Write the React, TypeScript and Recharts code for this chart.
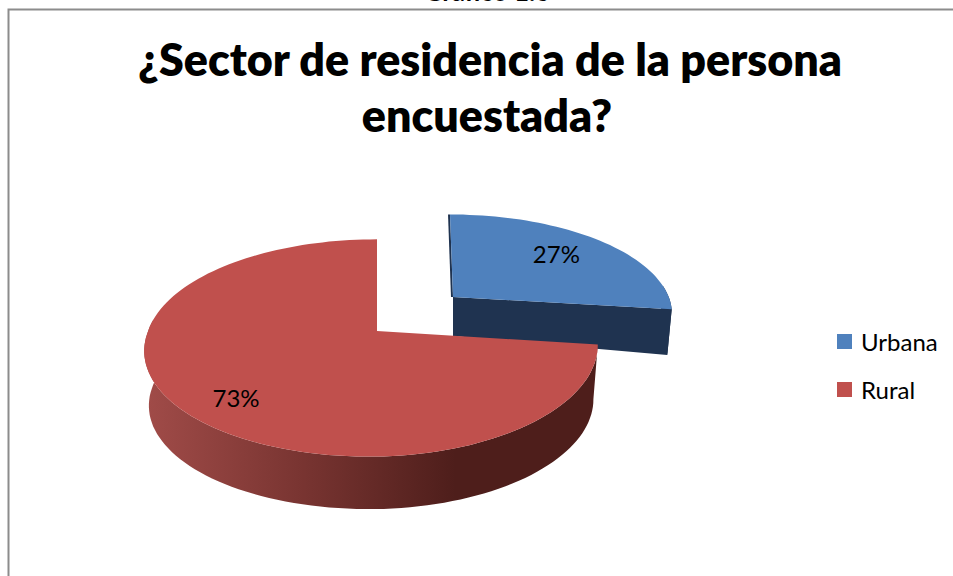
import React from 'react';
import { PieChart, Pie, Cell, Legend } from 'recharts';

const categories = ['Urbana', 'Rural'];
const shares = [27, 73];
const colors = ['#4f81bd', '#c0504d'];
const chartTitle = ['¿Sector de residencia de la persona', 'encuestada?'];

const data = categories.map((name, i) => ({ name, value: shares[i] }));

// fake 3D: each slice gets its own offset, foreshortening and wall height
const VIEW: Record<string, any> = {
  Urbana: { dx: 76, dy: -34, sx: 0.985, sy: 0.9, skew: 0.036, frontSkew: 0, depth: 39, extra: 7, cut: true, side: '#1f3350', labelAt: 0.68, labelDx: 2, labelDy: -3 },
  Rural: { dx: 0, dy: 0, sx: 1, sy: 1, skew: 0, frontSkew: -0.06, depth: 55, extra: 0, cut: false, side: 'url(#ruralSide)', labelAt: 0.75, labelDx: 2, labelDy: 10 },
};

const RAD = Math.PI / 180;
const TILT = 106;
const PERSP = 0.156;

// angle + radius fraction on the disc -> screen offset from the slice apex
const project = (angle: number, r: number, R: number, v: any) => {
  const u = Math.cos(angle * RAD) * r;
  const w = -Math.sin(angle * RAD) * r;
  const k = 1 - PERSP * w;
  const wide = u < 0 ? R * 1.045 : R;
  const y = ((TILT * w) / k) * v.sy;
  const lean = y > 0 ? y * v.frontSkew : 0;
  return { x: ((wide * u) / k) * v.sx + y * v.skew + lean, y };
};

const arcAngles = (from: number, to: number) => {
  const steps = Math.max(2, Math.ceil(Math.abs(to - from) / 2));
  const out: number[] = [];
  for (let i = 0; i <= steps; i++) out.push(from + ((to - from) * i) / steps);
  return out;
};

const toPath = (pts: { x: number; y: number }[]) =>
  pts.map((p, i) => `${i ? 'L' : 'M'}${p.x.toFixed(1)},${p.y.toFixed(1)}`).join(' ') + ' Z';

const Slice3D = (props: any) => {
  const { cx, cy, outerRadius, startAngle, endAngle, fill, name } = props;
  const v = VIEW[name];
  const ax = cx + v.dx;
  const ay = cy + v.dy;
  const top = (a: number, r = 1) => {
    const p = project(a, r, outerRadius, v);
    return { x: ax + p.x, y: ay + p.y };
  };
  const low = (a: number, r = 1) => {
    const p = project(a, r, outerRadius, v);
    return { x: ax + p.x * 0.98, y: ay + p.y * 0.98 + v.depth + v.extra * r };
  };

  const angles = arcAngles(startAngle, endAngle);
  // only the part of the rim facing the viewer gets a wall
  const front = angles.filter((a) => Math.sin(a * RAD) < 0.14);
  const wall = [...front.map((a) => top(a)), ...[...front].reverse().map((a) => low(a))];
  const face = [top(0, 0), ...angles.map((a) => top(a))];

  return (
    <g>
      <defs>
        <linearGradient id="ruralSide" gradientUnits="userSpaceOnUse" x1="148" y1="0" x2="600" y2="0">
          <stop offset="0" stopColor="#a04b48" />
          <stop offset="0.33" stopColor="#7a3532" />
          <stop offset="0.68" stopColor="#4e1e1b" />
          <stop offset="1" stopColor="#4e1e1b" />
        </linearGradient>
      </defs>
      <path d={toPath(wall)} fill={v.side} />
      {v.cut && (
        <>
          <path
            d={toPath([top(0, 0), top(endAngle), low(endAngle), low(0, 0)])}
            fill={v.side}
          />
          <line
            x1={top(startAngle).x - 1}
            y1={top(startAngle).y}
            x2={top(0, 0).x - 1}
            y2={top(0, 0).y}
            stroke={v.side}
            strokeWidth={2}
          />
        </>
      )}
      <path d={toPath(face)} fill={fill} />
    </g>
  );
};

const sliceLabel = (props: any) => {
  const { cx, cy, outerRadius, midAngle, percent, name } = props;
  const v = VIEW[name];
  const p = project(midAngle, v.labelAt, outerRadius, v);
  return (
    <text
      x={cx + v.dx + p.x + v.labelDx}
      y={cy + v.dy + p.y + v.labelDy}
      textAnchor="middle"
      dominantBaseline="central"
      fontFamily="Lato"
      fontSize={24}
      fill="#000"
    >
      {`${Math.round(percent * 100)}%`}
    </text>
  );
};

const legendContent = ({ payload }: any) => (
  <div>
    {(payload || []).map((entry: any) => (
      <div key={entry.value} style={{ display: 'flex', alignItems: 'center', height: 48 }}>
        <span style={{ width: 15, height: 15, background: entry.color, marginRight: 9 }} />
        <span style={{ fontFamily: 'Lato', fontSize: 24, color: '#000' }}>{entry.value}</span>
      </div>
    ))}
  </div>
);

export default function App() {
  return (
    <div style={{ position: 'absolute', left: 0, top: 0, width: 953, height: 576, overflow: 'hidden', background: '#fff' }}>
      <PieChart width={953} height={576} margin={{ top: 0, right: 0, bottom: 0, left: 0 }}>
        <rect x={8.5} y={9.5} width={1000} height={700} fill="none" stroke="#8c8c8c" strokeWidth={2} />
        <text x={487} y={1} textAnchor="middle" fontFamily="Lato" fontWeight={700} fontSize={26} fill="#000">
          Gráfico 1.6
        </text>
        <text textAnchor="middle" fontFamily="Lato" fontWeight={800} fontSize={44.8} fill="#000">
          <tspan x={490} y={76}>{chartTitle[0]}</tspan>
          <tspan x={487} y={132}>{chartTitle[1]}</tspan>
        </text>
        <Pie
          data={data}
          dataKey="value"
          nameKey="name"
          cx={377}
          cy={331}
          outerRadius={219}
          startAngle={90}
          endAngle={-270}
          stroke="none"
          shape={Slice3D}
          label={sliceLabel}
          labelLine={false}
          isAnimationActive={false}
        >
          {data.map((d, i) => (
            <Cell key={d.name} fill={colors[i]} />
          ))}
        </Pie>
        <Legend
          layout="vertical"
          itemSorter={null}
          content={legendContent}
          wrapperStyle={{ position: 'absolute', left: 837, top: 317, width: 116 }}
        />
      </PieChart>
    </div>
  );
}
